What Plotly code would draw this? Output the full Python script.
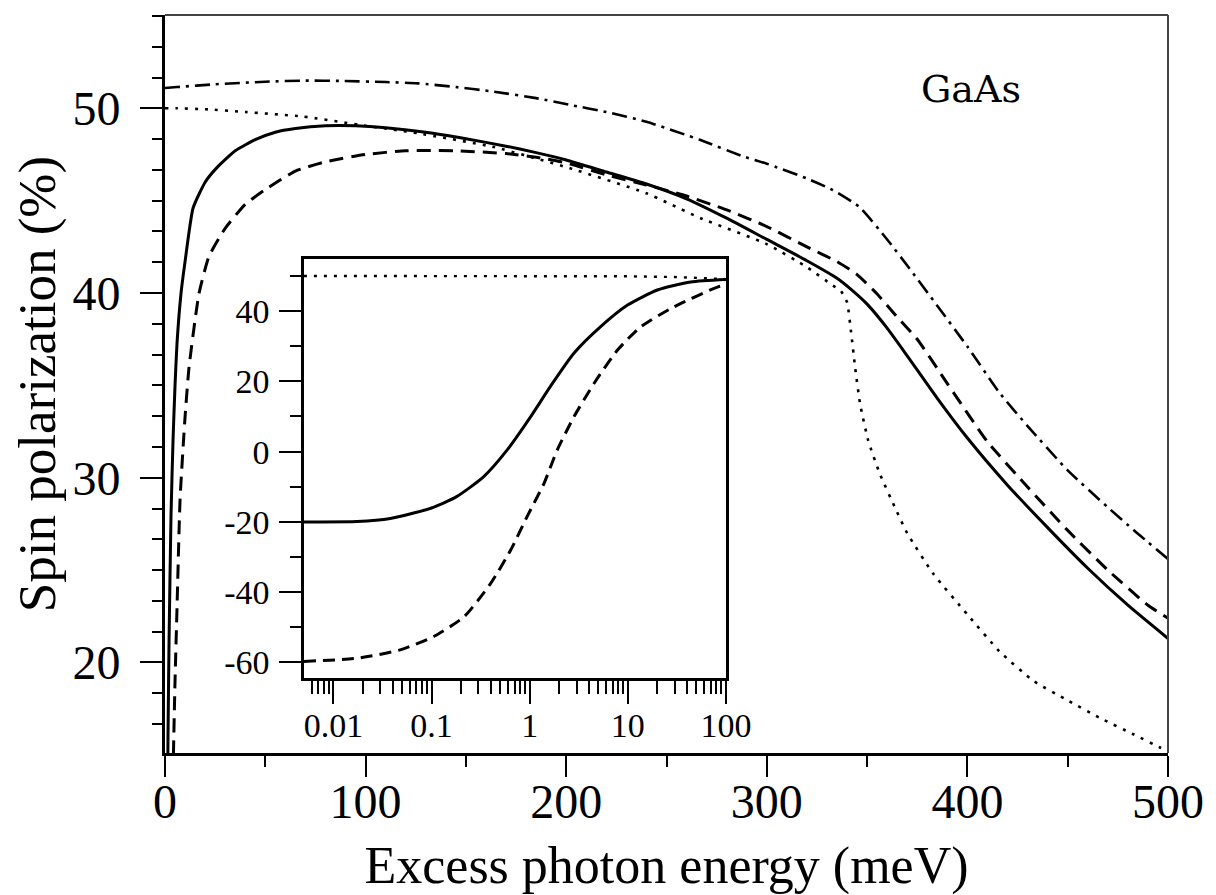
import plotly.graph_objects as go

# ---------------- main panel data (excess photon energy in meV, polarization in %) -------------
solid_x = [0, 0.5, 1, 1.5, 2, 3, 4, 5, 6, 8, 10, 14, 20, 26, 35, 45, 55, 65, 80, 95, 110, 130, 150,
           170, 185, 200, 220, 240, 260, 280, 300, 320, 335, 342, 350, 360, 370, 385, 400, 420, 440,
           460, 480, 500]
solid_y = [-20, -5, 9, 16, 21, 28, 32, 35, 37.3, 40, 41.7, 44.6, 46.0, 46.8, 47.7, 48.3, 48.7, 48.9,
           49.05, 49.05, 48.95, 48.7, 48.35, 47.95, 47.6, 47.2, 46.55, 45.9, 45.1, 44.05, 42.9, 41.75,
           40.8, 40.2, 39.4, 38.1, 36.6, 34.3, 32.15, 29.6, 27.3, 25.1, 23.1, 21.3]

dashed_x = [0, 1, 2, 3, 4, 5, 6, 7.5, 10, 12, 17, 22, 30, 40, 50, 65, 80, 100, 120, 145, 170, 185,
            200, 220, 240, 260, 280, 300, 320, 335, 345, 355, 365, 375, 390, 410, 430, 450, 470, 490,
            500]
dashed_y = [-60, -18, 0.5, 9, 14, 19, 23, 28.8, 33.3, 36, 40, 42, 43.5, 44.8, 45.6, 46.6, 47.1, 47.5,
            47.7, 47.7, 47.55, 47.35, 47.05, 46.4, 45.85, 45.25, 44.5, 43.6, 42.5, 41.7, 41.0, 39.95,
            38.7, 37.5, 35.1, 31.95, 29.5, 27.15, 25.0, 23.1, 22.4]

dashdot_x = [0, 6, 25, 50, 70, 88, 110, 126, 145, 164, 185, 202, 220, 240, 267, 288, 300, 320, 333,
             346, 360, 372, 383, 400, 416, 430, 450, 470, 483, 500]
dashdot_y = [51.1, 51.15, 51.3, 51.44, 51.5, 51.48, 51.42, 51.35, 51.15, 50.9, 50.55, 50.18, 49.8,
             49.27, 48.28, 47.4, 47.0, 46.2, 45.57, 44.67, 42.9, 41.2, 39.6, 37.1, 34.6, 32.8, 30.4,
             28.4, 27.16, 25.6]

dotted_x = [0, 6, 20, 40, 69, 97, 126, 164, 202, 240, 267, 300, 320, 333, 337, 340, 342, 344, 346.5,
            350.6, 356.4, 364.7, 370, 383, 400, 416, 433, 450, 466, 483, 496, 500]
dotted_y = [50.0, 50.0, 49.95, 49.8, 49.55, 49.1, 48.65, 47.9, 46.75, 45.4, 44.05, 42.65, 41.4, 40.4,
            40.1, 39.5, 37.9, 36.0, 34.0, 32.0, 30.2, 28.2, 27.0, 24.8, 22.6, 20.6, 19.0, 17.95, 17.0,
            16.1, 15.4, 15.2]

# ---------------- inset data (log energy axis) -------------
in_solid_e = [0.005, 0.0174, 0.038, 0.098, 0.18, 0.34, 0.59, 1.02, 1.62, 2.82, 5.25, 9.93, 20, 43.7, 100]
in_solid_y = [-20, -19.9, -19.0, -16.1, -12.8, -7.1, 0.5, 9.9, 18.5, 28.0, 35.5, 41.7, 46.0, 48.3, 49.0]

in_dashed_e = [0.005, 0.0174, 0.048, 0.105, 0.214, 0.40, 0.64, 0.94, 1.40, 1.91, 2.82, 4.52, 7.85,
               13.5, 29.5, 83, 100]
in_dashed_y = [-59.7, -58.8, -56.4, -52.6, -47.0, -37.5, -28.0, -18.5, -9.0, 0.5, 9.9, 19.4, 28.9,
               35.5, 41.2, 46.9, 47.4]

in_dotted_e = [0.005, 1, 10, 30, 100]
in_dotted_y = [50.0, 50.0, 49.9, 49.7, 49.1]

# ---------------- tick labels -------------
main_xticks = [0, 100, 200, 300, 400, 500]
main_yticks = [20, 30, 40, 50]
inset_xticks = [0.01, 0.1, 1, 10, 100]
inset_xtext = ["0.01", "0.1", "1", "10", "100"]
inset_yticks = [40, 20, 0, -20, -40, -60]
inset_ytext = ["40", "20", "0", "-20", "-40", "-60"]
inset_xminor = [m * 10 ** d for d in range(-3, 2) for m in range(2, 10)]

SERIF = "Liberation Serif"
BLACK = "black"

fig = go.Figure()

# main curves
fig.add_trace(go.Scatter(x=solid_x, y=solid_y, mode="lines",
                         line=dict(color=BLACK, width=3, shape="spline", smoothing=0.5), showlegend=False))
fig.add_trace(go.Scatter(x=dashed_x, y=dashed_y, mode="lines",
                         line=dict(color=BLACK, width=3, dash="14px,8px", shape="spline", smoothing=0.5),
                         showlegend=False))
fig.add_trace(go.Scatter(x=dashdot_x, y=dashdot_y, mode="lines",
                         line=dict(color=BLACK, width=2.6, dash="15px,6px,3px,6px", shape="spline",
                                   smoothing=0.5), showlegend=False))
fig.add_trace(go.Scatter(x=dotted_x, y=dotted_y, mode="lines",
                         line=dict(color=BLACK, width=2.6, dash="3px,7px", shape="spline", smoothing=0.5),
                         showlegend=False))

# inset curves
fig.add_trace(go.Scatter(x=in_solid_e, y=in_solid_y, mode="lines", xaxis="x2", yaxis="y2",
                         line=dict(color=BLACK, width=3, shape="spline", smoothing=0.6), showlegend=False))
fig.add_trace(go.Scatter(x=in_dashed_e, y=in_dashed_y, mode="lines", xaxis="x2", yaxis="y2",
                         line=dict(color=BLACK, width=3, dash="12px,7px", shape="spline", smoothing=0.6),
                         showlegend=False))
fig.add_trace(go.Scatter(x=in_dotted_e, y=in_dotted_y, mode="lines", xaxis="x2", yaxis="y2",
                         line=dict(color=BLACK, width=2.4, dash="3px,7px"), showlegend=False))

INSET_X = [0.1386, 0.5593]
INSET_Y = [0.101, 0.6688]

# the page adds an 8px body margin, so the figure is drawn 8px smaller and shifted accordingly
fig.update_layout(
    template="none",
    width=1208, height=887,
    margin=dict(l=157, r=48, t=7, b=142, autoexpand=False),
    paper_bgcolor="white", plot_bgcolor="white",
    font=dict(family=SERIF, color=BLACK),
    xaxis=dict(
        range=[0, 500], domain=[0, 1], anchor="y", automargin=False,
        showline=True, linewidth=3, linecolor=BLACK,
        showgrid=False, zeroline=False,
        tickmode="array", tickvals=main_xticks,
        ticks="outside", ticklen=21, tickwidth=2, tickcolor=BLACK,
        ticklabelstandoff=-17,
        tickfont=dict(family=SERIF, size=48, color=BLACK),
        minor=dict(dtick=50, tick0=0, ticks="outside", ticklen=11, tickwidth=2, tickcolor=BLACK,
                   showgrid=False),
        title=dict(text="Excess photon energy (meV)", font=dict(family=SERIF, size=52, color=BLACK),
                   standoff=36),
    ),
    yaxis=dict(
        range=[15.1, 55.05], domain=[0, 1], anchor="x", automargin=False,
        showline=True, linewidth=3, linecolor=BLACK,
        showgrid=False, zeroline=False,
        tickmode="array", tickvals=main_yticks,
        ticks="outside", ticklen=22, tickwidth=2, tickcolor=BLACK,
        ticklabelstandoff=10,
        tickfont=dict(family=SERIF, size=48, color=BLACK),
        minor=dict(dtick=10 / 6, tick0=20, ticks="outside", ticklen=10, tickwidth=2, tickcolor=BLACK,
                   showgrid=False),
        title=dict(text="Spin polarization (%)", font=dict(family=SERIF, size=53, color=BLACK),
                   standoff=5),
    ),
    xaxis2=dict(
        type="log", range=[-2.3, 2.0], domain=INSET_X, anchor="y2", automargin=False,
        showline=True, linewidth=2.5, linecolor=BLACK, mirror=True,
        showgrid=False, zeroline=False,
        tickmode="array", tickvals=inset_xticks, ticktext=inset_xtext,
        ticks="outside", ticklen=23, tickwidth=2, tickcolor=BLACK,
        ticklabelstandoff=-8,
        tickfont=dict(family=SERIF, size=34, color=BLACK),
        minor=dict(tickmode="array", tickvals=inset_xminor, ticks="outside", ticklen=13, tickwidth=2,
                   tickcolor=BLACK, showgrid=False),
    ),
    yaxis2=dict(
        range=[-64.55, 54.7], domain=INSET_Y, anchor="x2", automargin=False,
        showline=True, linewidth=2.5, linecolor=BLACK, mirror=True,
        showgrid=False, zeroline=False,
        tickmode="array", tickvals=inset_yticks, ticktext=inset_ytext,
        ticks="outside", ticklen=22, tickwidth=2, tickcolor=BLACK,
        ticklabelstandoff=3,
        tickfont=dict(family=SERIF, size=34, color=BLACK),
        minor=dict(dtick=10, tick0=0, ticks="outside", ticklen=11, tickwidth=2, tickcolor=BLACK,
                   showgrid=False),
    ),
    shapes=[
        dict(type="line", xref="x domain", yref="y domain", x0=0, x1=1, y0=1, y1=1,
             line=dict(color="#444444", width=2)),
        dict(type="line", xref="x domain", yref="y domain", x0=1, x1=1, y0=0, y1=1,
             line=dict(color="#444444", width=2)),
        dict(type="rect", xref="paper", yref="paper", x0=INSET_X[0], x1=INSET_X[1],
             y0=INSET_Y[0], y1=INSET_Y[1], fillcolor="white", line=dict(width=0), layer="below"),
    ],
    annotations=[
        dict(text="GaAs", x=401.8, y=51.05, xref="x", yref="y", showarrow=False,
             font=dict(family="DejaVu Serif", size=38, color=BLACK)),
    ],
)

fig.write_html("out.html")
